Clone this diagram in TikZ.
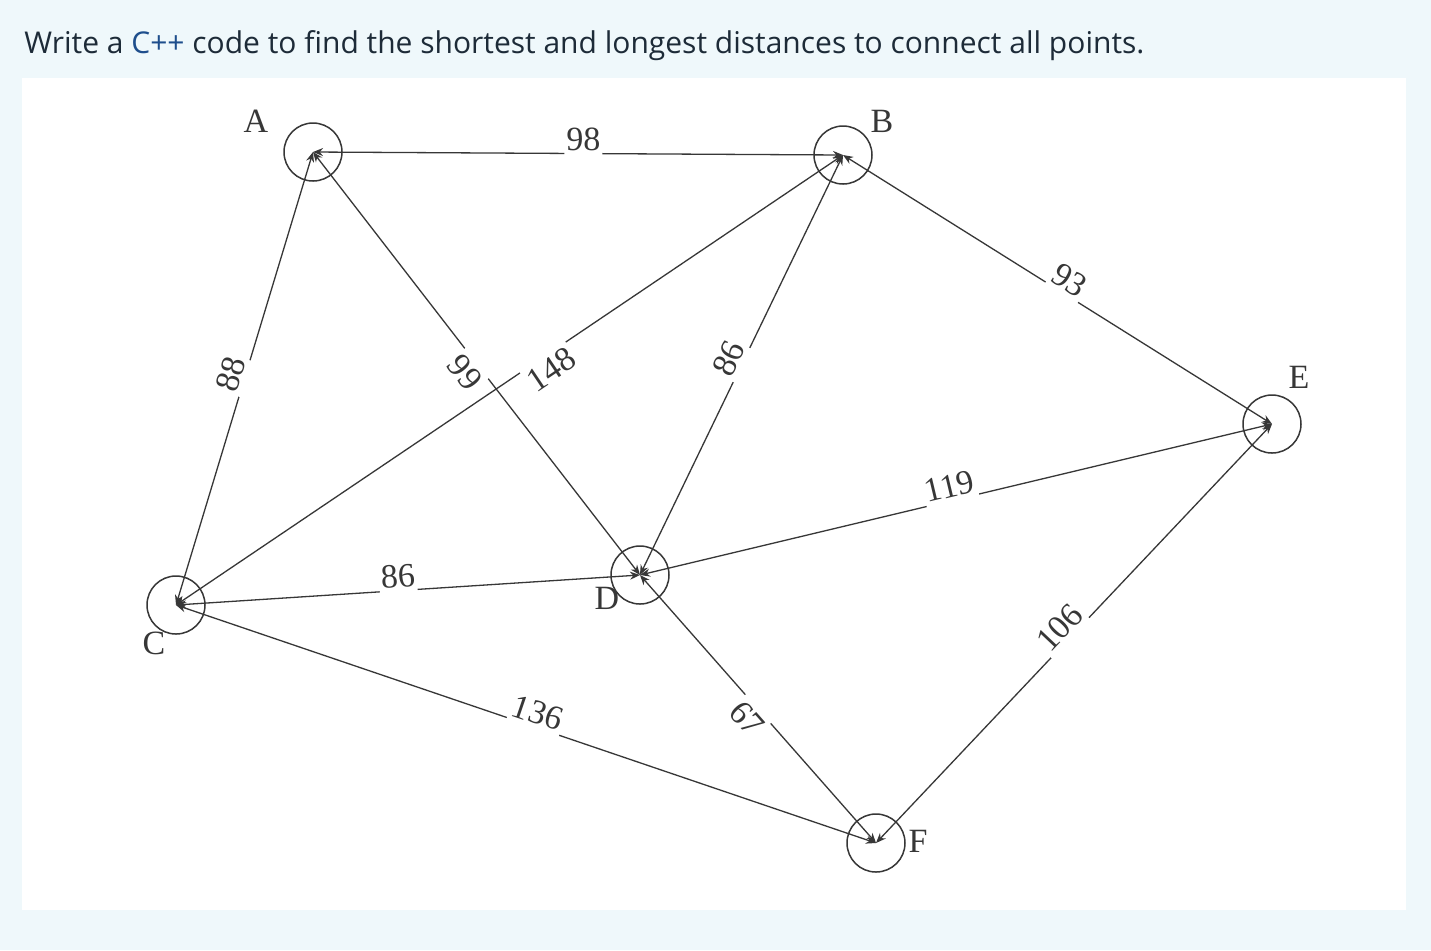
\documentclass[tikz,border=0pt]{standalone}
\usepackage{fontspec}
\setmainfont{Liberation Serif}
\newfontfamily\titlefont{Open Sans}
\usetikzlibrary{arrows.meta}
\definecolor{pagebg}{RGB}{239,248,251}
\definecolor{titleink}{RGB}{29,43,56}
\definecolor{linkink}{RGB}{30,78,140}
\definecolor{edgeink}{RGB}{55,55,55}

\begin{document}
\begin{tikzpicture}[x=0.5pt,y=-0.5pt,
    vertex/.style={circle,draw=edgeink,line width=0.75pt,minimum size=29pt,inner sep=0pt},
    letter/.style={text=edgeink,inner sep=0pt,font=\fontsize{17}{17}\selectfont},
    edge/.style={draw=edgeink,line width=0.65pt,{Stealth[length=5pt,width=4pt]}-{Stealth[length=5pt,width=4pt]}},
    weight/.style={sloped,fill=white,text=edgeink,inner xsep=1pt,inner ysep=2.5pt,outer sep=-1pt,font=\fontsize{17}{17}\selectfont}]
    % page and panel
    \fill[pagebg] (0,0) rectangle (1431,950);
    \fill[white] (22,78) rectangle (1406,910);
    \node[anchor=base west,inner sep=0pt,text=titleink,font=\titlefont\fontsize{15}{15}\selectfont] (title) at (24,53)
        {Write a \textcolor{linkink}{C++} code to find the shortest and longest distances to connect all points.};
    % points
    \node[vertex] (A) at (313,152) {};
    \node[vertex] (B) at (843,155) {};
    \node[vertex] (C) at (176,605) {};
    \node[vertex] (D) at (640,575) {};
    \node[vertex] (E) at (1272,424) {};
    \node[vertex] (F) at (876,843) {};
    \node[letter] (nA) at (256,121) {A};
    \node[letter] (nB) at (882,121) {B};
    \node[letter] (nC) at (154,643) {C};
    \node[letter] (nD) at (607,598) {D};
    \node[letter] (nE) at (1299,377) {E};
    \node[letter] (nF) at (918,841) {F};
    % distances
    \draw[edge] (A.center) -- node[weight,above,pos=0.51] (wAB) {98} (B.center);
    \draw[edge] (C.center) -- node[weight,above,pos=0.50] (wCA) {88} (A.center);
    \draw[edge] (A.center) -- node[weight,below,pos=0.50] (wAD) {99} (D.center);
    \draw[edge] (C.center) -- node[weight,below,pos=0.55] (wCB) {148} (B.center);
    \draw[edge] (D.center) -- node[weight,above,pos=0.50] (wDB) {86} (B.center);
    \draw[edge] (B.center) -- node[weight,above,pos=0.51] (wBE) {93} (E.center);
    \draw[edge] (C.center) -- node[weight,above,pos=0.48] (wCD) {86} (D.center);
    \draw[edge] (C.center) -- node[weight,above,pos=0.51] (wCF) {136} (F.center);
    \draw[edge] (D.center) -- node[weight,above,pos=0.495] (wDE) {119} (E.center);
    \draw[edge] (D.center) -- node[weight,below,pos=0.50] (wDF) {67} (F.center);
    \draw[edge] (F.center) -- node[weight,above,pos=0.49] (wFE) {106} (E.center);
\end{tikzpicture}
\end{document}
